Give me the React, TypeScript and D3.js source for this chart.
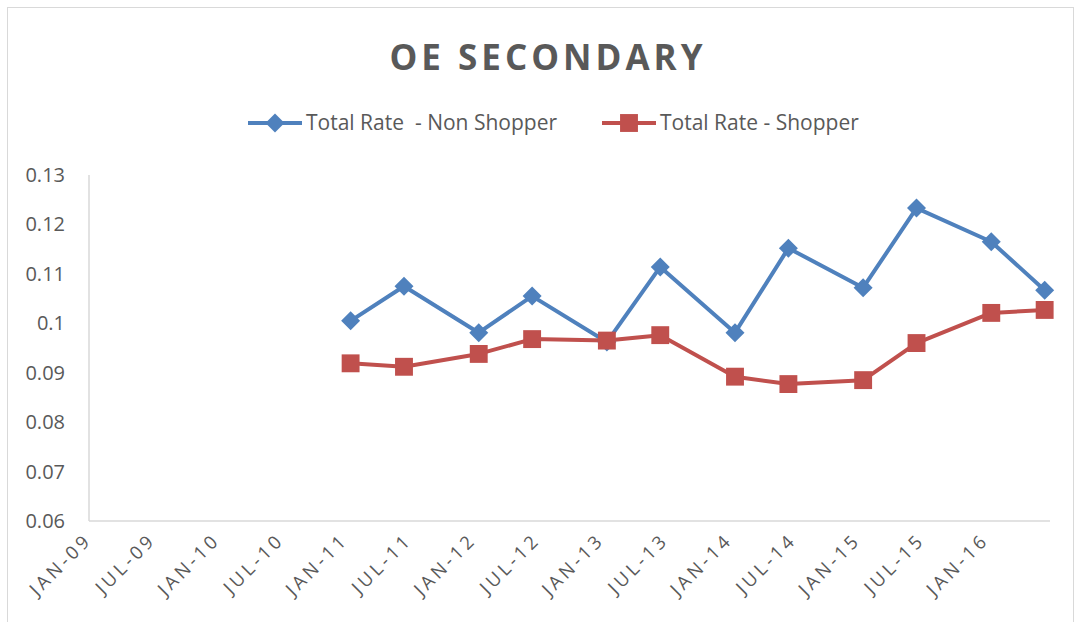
import React, { useEffect, useRef } from 'react';
import * as d3 from 'd3';

const tickLabels = ['JAN-09', 'JUL-09', 'JAN-10', 'JUL-10', 'JAN-11', 'JUL-11', 'JAN-12', 'JUL-12', 'JAN-13', 'JUL-13', 'JAN-14', 'JUL-14', 'JAN-15', 'JUL-15', 'JAN-16'];
const pointDates = ['2011-01', '2011-06', '2012-01', '2012-06', '2013-01', '2013-06', '2014-01', '2014-06', '2015-01', '2015-06', '2016-01', '2016-06'];
const nonShopper = [0.1005, 0.1075, 0.0981, 0.1055, 0.0962, 0.1114, 0.0981, 0.1152, 0.1072, 0.1233, 0.1165, 0.1067];
const shopper = [0.0919, 0.0912, 0.0938, 0.0968, 0.0965, 0.0976, 0.0892, 0.0877, 0.0885, 0.0960, 0.1021, 0.1027];
const yTicks = [0.06, 0.07, 0.08, 0.09, 0.1, 0.11, 0.12, 0.13];

const BLUE = '#4f81bd';
const RED = '#c0504d';
const TEXT = '#595959';
const FONT = '"Open Sans", "Noto Sans", sans-serif';

// months since Jan 2009 (date axis with monthly base unit)
const monthIndex = (s: string) => {
  const [yy, mm] = s.split('-').map(Number);
  return (yy - 2009) * 12 + (mm - 1);
};

export default function App() {
  const ref = useRef<SVGSVGElement>(null);

  useEffect(() => {
    if (!ref.current) return;
    const svg = d3.select(ref.current);
    svg.selectAll('*').remove();

    const left = 89, right = 1050, top = 175, bottom = 521;

    const months = pointDates.map(monthIndex);
    const lastMonth = d3.max(months)! + 1;

    const x = d3.scaleLinear().domain([0, lastMonth]).range([left, right]);
    const y = d3.scaleLinear().domain([0.06, 0.13]).range([bottom, top]);

    // frame
    svg.append('rect')
      .attr('x', 7.5).attr('y', 7.5)
      .attr('width', 1066).attr('height', 620)
      .attr('fill', '#fff').attr('stroke', '#d9d9d9');

    svg.append('text')
      .attr('x', 548).attr('y', 70)
      .attr('text-anchor', 'middle')
      .attr('font-family', FONT).attr('font-size', 35).attr('font-weight', 'bold')
      .attr('letter-spacing', 4)
      .attr('fill', TEXT)
      .text('OE SECONDARY');

    // axes
    svg.append('line')
      .attr('x1', left).attr('x2', left).attr('y1', top).attr('y2', bottom)
      .attr('stroke', '#d9d9d9').attr('stroke-width', 1.5);
    svg.append('line')
      .attr('x1', left).attr('x2', right).attr('y1', bottom).attr('y2', bottom)
      .attr('stroke', '#d9d9d9').attr('stroke-width', 1.5);

    svg.append('g')
      .selectAll('text')
      .data(yTicks)
      .join('text')
      .attr('x', 65)
      .attr('y', d => y(d) + 7)
      .attr('text-anchor', 'end')
      .attr('font-family', FONT).attr('font-size', 20)
      .attr('fill', TEXT)
      .text(d => String(d));

    svg.append('g')
      .selectAll('text')
      .data(tickLabels)
      .join('text')
      .attr('transform', (d, i) => `translate(${x(i * 6) + 4},${541}) rotate(-45)`)
      .attr('text-anchor', 'end')
      .attr('font-family', FONT).attr('font-size', 18.5)
      .attr('letter-spacing', 3.5)
      .attr('fill', TEXT)
      .text(d => d);

    const line = d3.line<number>()
      .x((d, i) => x(months[i] + 0.5))
      .y(d => y(d));

    const diamond = d3.symbol().type(d3.symbolDiamond2).size(230);
    const square = d3.symbol().type(d3.symbolSquare).size(320);

    svg.append('path').datum(nonShopper)
      .attr('d', line).attr('fill', 'none')
      .attr('stroke', BLUE).attr('stroke-width', 4).attr('stroke-linejoin', 'round');
    svg.append('path').datum(shopper)
      .attr('d', line).attr('fill', 'none')
      .attr('stroke', RED).attr('stroke-width', 4).attr('stroke-linejoin', 'round');

    svg.append('g').selectAll('path')
      .data(nonShopper)
      .join('path')
      .attr('transform', (d, i) => `translate(${x(months[i] + 0.5)},${y(d)})`)
      .attr('d', diamond)
      .attr('fill', BLUE);
    svg.append('g').selectAll('path')
      .data(shopper)
      .join('path')
      .attr('transform', (d, i) => `translate(${x(months[i] + 0.5)},${y(d)})`)
      .attr('d', square)
      .attr('fill', RED);

    // legend
    const legend = [
      { label: 'Total Rate  - Non Shopper', color: BLUE, sym: diamond, x0: 248 },
      { label: 'Total Rate - Shopper', color: RED, sym: square, x0: 602 },
    ];
    const lg = svg.append('g');
    legend.forEach(l => {
      lg.append('line')
        .attr('x1', l.x0).attr('x2', l.x0 + 54).attr('y1', 123).attr('y2', 123)
        .attr('stroke', l.color).attr('stroke-width', 4);
      lg.append('path')
        .attr('transform', `translate(${l.x0 + 27},123)`)
        .attr('d', l.sym)
        .attr('fill', l.color);
      lg.append('text')
        .attr('x', l.x0 + 58).attr('y', 130)
        .attr('font-family', FONT).attr('font-size', 21)
        .attr('fill', TEXT)
        .style('white-space', 'pre')
        .text(l.label);
    });
  }, []);

  return (
    <svg ref={ref} width={1081} height={622} style={{ position: 'absolute', left: 0, top: 0 }} />
  );
}
